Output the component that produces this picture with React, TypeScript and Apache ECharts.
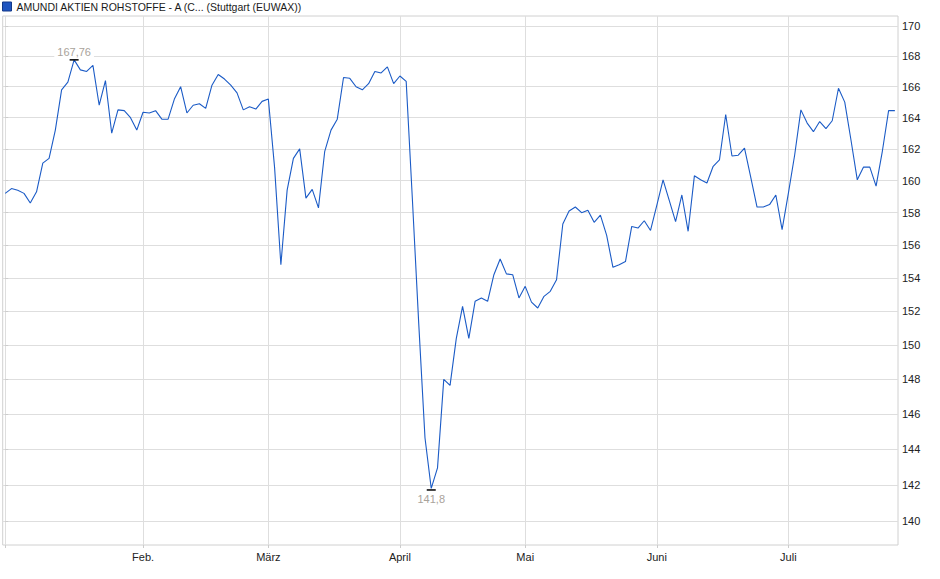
import * as echarts from 'echarts';
import React, { useEffect, useRef } from 'react';

// daily closes (trading days), one small array per month
const jan = [
  159.2, 159.5, 159.4, 159.2, 158.6, 159.3, 161.1, 161.4, 163.2, 165.8, 166.3,
  167.76, 167.1, 167.0, 167.4, 164.8, 166.4, 163.0, 164.5, 164.45, 164.0, 163.2,
];
const feb = [
  164.35, 164.3, 164.45, 163.9, 163.9, 165.2, 166.0, 164.3, 164.8, 164.9, 164.6,
  166.1, 166.8, 166.5, 166.1, 165.6, 164.5, 164.7, 164.55, 165.05,
];
const mar = [
  165.2, 160.8, 154.8, 159.4, 161.4, 162.0, 158.9, 159.45, 158.3, 161.85, 163.2,
  163.9, 166.6, 166.55, 166.0, 165.8, 166.2, 167.0, 166.9, 167.3, 166.2,
];
const apr = [
  166.7, 166.35, 158.75, 151.3, 144.65, 141.8, 142.95, 148.0, 147.65, 150.4,
  152.3, 150.4, 152.6, 152.8, 152.6, 154.2, 155.15, 154.25, 154.2, 152.8,
];
const may = [
  153.5, 152.55, 152.2, 152.9, 153.2, 153.9, 157.3, 158.1, 158.35, 158.0, 158.15,
  157.4, 157.85, 156.6, 154.65, 154.8, 155.0, 157.15, 157.05, 157.5, 156.9,
];
const jun = [
  158.45, 160.05, 158.75, 157.45, 159.1, 156.85, 160.3, 160.05, 159.85, 160.9,
  161.3, 164.2, 161.55, 161.6, 162.05, 160.2, 158.35, 158.35, 158.5, 159.1, 156.95,
];
const jul = [
  159.2, 161.6, 164.5, 163.65, 163.1, 163.75, 163.3, 163.8, 165.9, 165.0, 162.55,
  160.05, 160.85, 160.85, 159.65, 161.85, 164.45, 164.45,
];

const monthLabels = ['Feb.', 'März', 'April', 'Mai', 'Juni', 'Juli'];
const yTicks = [140, 142, 144, 146, 148, 150, 152, 154, 156, 158, 160, 162, 164, 166, 168, 170];

const seriesName = 'AMUNDI AKTIEN ROHSTOFFE - A (C... (Stuttgart (EUWAX))';
const lineColor = '#1b5bc6';
const font = '"Liberation Sans", Arial, sans-serif';

const App: React.FC = () => {
  const chartRef = useRef<HTMLDivElement>(null);

  useEffect(() => {
    let chart: echarts.ECharts | undefined;
    if (chartRef.current) {
      chart = echarts.init(chartRef.current, undefined, { renderer: 'svg' });

      const months = [jan, feb, mar, apr, may, jun, jul];
      const values = months.flat();
      // index of the first trading day of each labelled month
      const monthStarts: number[] = [];
      let acc = 0;
      months.forEach((m, i) => {
        if (i > 0) monthStarts.push(acc);
        acc += m.length;
      });

      // the price scale is logarithmic, with linear tick values
      const points = values.map((v, i) => [i, Math.log(v)]);
      const maxIdx = values.indexOf(Math.max(...values));
      const minIdx = values.indexOf(Math.min(...values));
      const fmt = (v: number) => String(v).replace('.', ',');

      const option: echarts.EChartsOption = {
        animation: false,
        backgroundColor: '#fff',
        textStyle: { fontFamily: font },
        legend: {
          left: 0,
          top: 1,
          itemWidth: 9,
          itemHeight: 9,
          itemGap: 4,
          padding: [0, 0, 0, 2],
          textStyle: { fontSize: 10.5, color: '#1a1a1a', fontFamily: font, padding: [0, 0, 0, 0] },
          data: [
            {
              name: seriesName,
              icon: 'rect',
              itemStyle: { color: '#1f55c0', borderColor: '#12398a', borderWidth: 1 },
            },
          ],
        },
        grid: {
          left: 2.7,
          right: 42,
          top: 16,
          bottom: 34,
          show: true,
          borderColor: '#d0d0d0',
          borderWidth: 1,
        },
        xAxis: {
          type: 'value',
          min: -0.4,
          max: 142.5,
          axisLine: { show: false },
          axisTick: {
            show: true,
            length: 3,
            lineStyle: { color: '#cccccc' },
            customValues: [0, ...monthStarts],
          },
          axisLabel: {
            customValues: monthStarts,
            formatter: (v: number) => monthLabels[monthStarts.indexOf(Math.round(v))] ?? '',
            fontSize: 11,
            color: '#222',
            margin: 6,
            fontFamily: font,
          },
          splitLine: { show: true, lineStyle: { color: '#dedede', width: 1 } },
        },
        yAxis: {
          type: 'value',
          position: 'right',
          min: Math.log(138.69),
          max: Math.log(170.67),
          axisLine: { show: false },
          axisTick: {
            show: true,
            length: 3,
            lineStyle: { color: '#cccccc' },
            customValues: yTicks.map((t) => Math.log(t)),
          },
          axisLabel: {
            customValues: yTicks.map((t) => Math.log(t)),
            formatter: (v: number) => String(Math.round(Math.exp(v))),
            fontSize: 11,
            color: '#222',
            margin: 4,
            fontFamily: font,
          },
          splitLine: { show: true, lineStyle: { color: '#dedede', width: 1 } },
        },
        series: [
          {
            name: seriesName,
            type: 'line',
            data: points,
            showSymbol: false,
            symbol: 'none',
            lineStyle: { color: lineColor, width: 1.1 },
            itemStyle: { color: lineColor },
            markPoint: {
              silent: true,
              symbol: 'rect',
              symbolSize: [9, 1.6],
              itemStyle: { color: '#111' },
              label: {
                fontSize: 11,
                color: '#a9a39b',
                backgroundColor: '#fff',
                fontFamily: font,
                formatter: (p: any) => fmt(p.value),
              },
              data: [
                {
                  name: 'max',
                  coord: [maxIdx, Math.log(values[maxIdx])],
                  value: values[maxIdx],
                  label: { position: 'top', distance: 2, padding: [1, 3, 0, 3] },
                },
                {
                  name: 'min',
                  coord: [minIdx, Math.log(values[minIdx])],
                  value: values[minIdx],
                  symbolOffset: [0, 1.5],
                  label: { position: 'bottom', distance: 3, padding: [0, 3, 1, 3] },
                },
              ],
            },
          },
        ],
      };

      chart.setOption(option);
    }

    return () => {
      chart?.dispose();
    };
  }, []);

  return (
    <div
      ref={chartRef}
      style={{ position: 'fixed', left: 0, top: 0, width: '940px', height: '579px' }}
    />
  );
};

export default App;
